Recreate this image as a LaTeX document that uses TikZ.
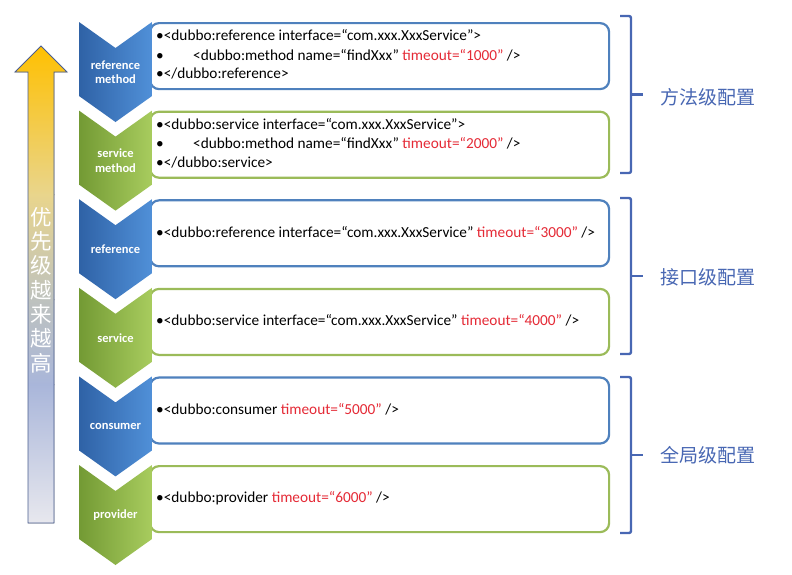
\documentclass[tikz,border=0pt]{standalone}
\usepackage{fontspec}
\setmainfont{Carlito}
\newfontfamily\cjk{Noto Sans CJK SC}
\definecolor{bedge}{HTML}{4F81BD}
\definecolor{gedge}{HTML}{9BBB59}
\definecolor{bdark}{HTML}{2F62A6}
\definecolor{blight}{HTML}{5090D8}
\definecolor{gdark}{HTML}{739A34}
\definecolor{glight}{HTML}{A8CC5E}
\definecolor{tred}{HTML}{E52A36}
\definecolor{lblue}{HTML}{4867B3}
\definecolor{arrline}{HTML}{4A5E90}
\tikzset{
  box/.style={draw=#1, line width=2.2pt, rounded corners=9pt, fill=white, minimum width=459pt, minimum height=66pt, anchor=north west, inner sep=0pt},
  chevblue/.style={left color=bdark, right color=blight, draw=none},
  chevgreen/.style={left color=gdark, right color=glight, draw=none},
  chevlabel/.style={text=white, font=\bfseries\fontsize{12.5}{14.5}\selectfont, align=center, inner sep=0pt},
  code/.style={anchor=west, inner sep=0pt, font=\fontsize{15.3}{18}\selectfont, text=black},
  bracket/.style={draw=lblue, line width=2.4pt, rounded corners=2pt},
  level/.style={text=lblue, font=\cjk\fontsize{19}{22}\selectfont, anchor=west, inner sep=0pt},
}
\newcommand{\red}[1]{\textcolor{tred}{#1}}
\begin{document}
\begin{tikzpicture}[x=1pt, y=-1pt]
\useasboundingbox (0,0) rectangle (792,574);
\fill[white] (0,0) rectangle (792,574);
% priority arrow
\begin{scope}
\clip (41,46) -- (15,72) -- (28,72) -- (28,523) -- (54,523) -- (54,72) -- (67,72) -- cycle;
\fill[top color={rgb,255:red,255;green,192;blue,0}, bottom color={rgb,255:red,233;green,213;blue,140}] (0,45) rectangle (80,195);
\fill[top color={rgb,255:red,233;green,213;blue,140}, bottom color={rgb,255:red,190;green,194;blue,190}] (0,194) rectangle (80,300);
\fill[top color={rgb,255:red,190;green,194;blue,190}, bottom color={rgb,255:red,169;green,182;blue,218}] (0,299) rectangle (80,385);
\fill[top color={rgb,255:red,169;green,182;blue,218}, bottom color={rgb,255:red,232;green,232;blue,238}] (0,384) rectangle (80,524);
\end{scope}
\draw[arrline, line width=0.9pt, line join=miter] (41,46) -- (15,72) -- (28,72) -- (28,523) -- (54,523) -- (54,72) -- (67,72) -- cycle;
\node[text=white, font=\cjk\fontsize{21.5}{24.3}\selectfont, align=center, inner sep=0pt] (prio) at (41,290) {优\\先\\级\\越\\来\\越\\高};
% boxes
\foreach \i/\c in {0/bedge,1/gedge,2/bedge,3/gedge,4/bedge,5/gedge}{
  \node[box=\c] (box\i) at (149,{22+88.6*\i}) {};
}
% chevrons
\foreach \i/\s in {0/chevblue,1/chevgreen,2/chevblue,3/chevgreen,4/chevblue,5/chevgreen}{
  \pgfmathsetmacro{\t}{22+88.6*\i}
  \path[\s] (79,\t) -- (115.5,\t+26) -- (152,\t) -- (152,\t+74) -- (115.5,\t+100) -- (79,\t+74) -- cycle;
}
\node[chevlabel] (c0) at (115.5,72) {reference\\method};
\node[chevlabel] (c1) at (115.5,160.6) {service\\method};
\node[chevlabel] (c2) at (115.5,249.2) {reference};
\node[chevlabel] (c3) at (115.5,337.8) {service};
\node[chevlabel] (c4) at (115.5,426.4) {consumer};
\node[chevlabel] (c5) at (115.5,515) {provider};
% code text
\node[code] (t0a) at (156,35) {•<dubbo:reference interface=“com.xxx.XxxService”>};
\node[code] (t0b) at (156,55) {\makebox[37pt][l]{•}<dubbo:method name=“findXxx” \red{timeout=“1000”} />};
\node[code] (t0c) at (156,74) {•</dubbo:reference>};
\node[code] (t1a) at (156,123.6) {•<dubbo:service interface=“com.xxx.XxxService”>};
\node[code] (t1b) at (156,143.6) {\makebox[37pt][l]{•}<dubbo:method name=“findXxx” \red{timeout=“2000”} />};
\node[code] (t1c) at (156,162.6) {•</dubbo:service>};
\node[code] (t2) at (156,232) {•<dubbo:reference interface=“com.xxx.XxxService” \red{timeout=“3000”} />};
\node[code] (t3) at (156,320.6) {•<dubbo:service interface=“com.xxx.XxxService” \red{timeout=“4000”} />};
\node[code] (t4) at (156,409.2) {•<dubbo:consumer \red{timeout=“5000”} />};
\node[code] (t5) at (156,497.8) {•<dubbo:provider \red{timeout=“6000”} />};
% brackets
\draw[bracket] (620,16) -- (631,16) -- (631,173) -- (620,173);
\draw[bracket] (631,94.5) -- (643,94.5);
\draw[bracket] (620,198) -- (631,198) -- (631,354) -- (620,354);
\draw[bracket] (631,276) -- (643,276);
\draw[bracket] (620,377) -- (631,377) -- (631,533) -- (620,533);
\draw[bracket] (631,455) -- (643,455);
\node[level] (l0) at (660,97) {方法级配置};
\node[level] (l1) at (660,277) {接口级配置};
\node[level] (l2) at (660,455) {全局级配置};
\end{tikzpicture}
\end{document}
